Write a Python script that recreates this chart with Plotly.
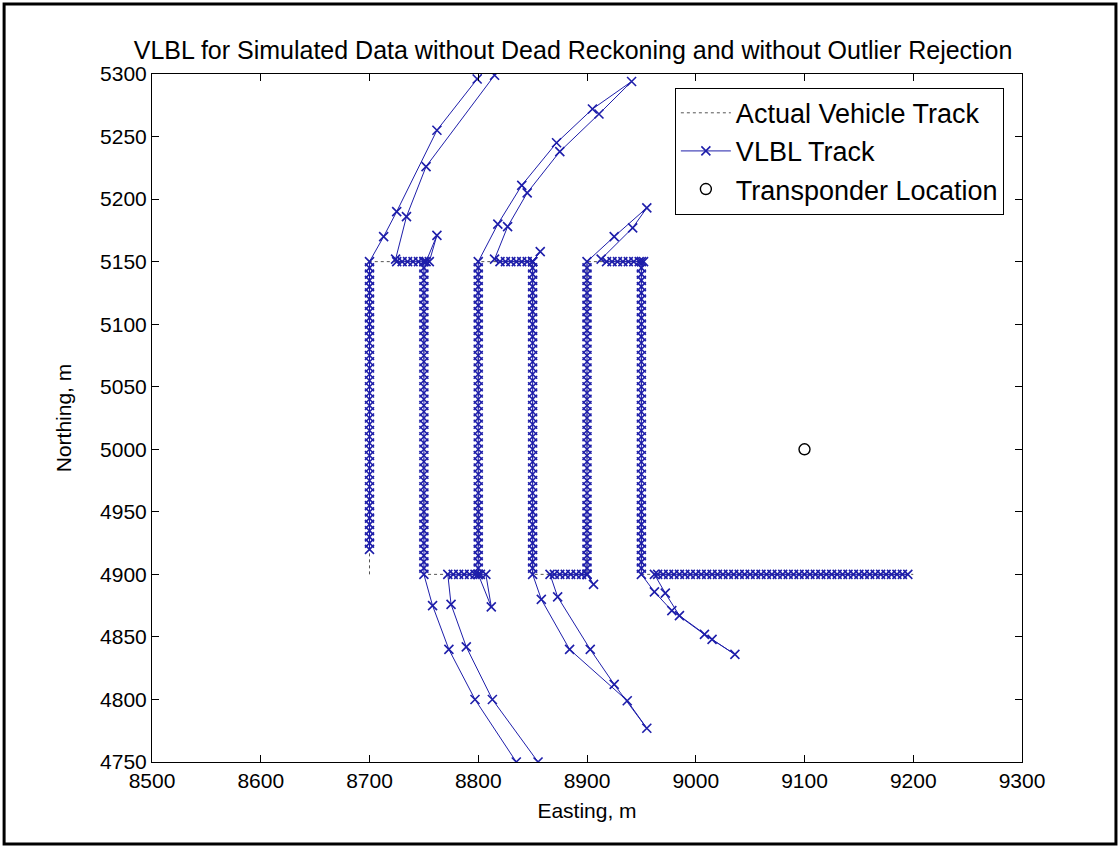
import plotly.graph_objects as go

# ---------------- data ----------------
# planned (actual) vehicle track way-points
actual_e = [8700, 8700, 8750, 8750, 8800, 8800, 8850, 8850, 8900, 8900, 8950, 8950, 9200]
actual_n = [4900, 5150, 5150, 4900, 4900, 5150, 5150, 4900, 4900, 5150, 5150, 4900, 4900]

# transponder
transponder_e = [9100]
transponder_n = [5000]

# northings of the VLBL fixes along the survey legs
leg_north = [4900, 4905, 4910, 4915, 4920, 4925, 4930, 4935, 4940, 4945, 4950, 4955, 4960,
             4965, 4970, 4975, 4980, 4985, 4990, 4995, 5000, 5005, 5010, 5015, 5020, 5025,
             5030, 5035, 5040, 5045, 5050, 5055, 5060, 5065, 5070, 5075, 5080, 5085, 5090,
             5095, 5100, 5105, 5110, 5115, 5120, 5125, 5130, 5135, 5140, 5145, 5150]
first_leg_north = [4920, 4925, 4930, 4935, 4940, 4945, 4950, 4955, 4960, 4965, 4970, 4975,
                   4980, 4985, 4990, 4995, 5000, 5005, 5010, 5015, 5020, 5025, 5030, 5035,
                   5040, 5045, 5050, 5055, 5060, 5065, 5070, 5075, 5080, 5085, 5090, 5095,
                   5100, 5105, 5110, 5115, 5120, 5125, 5130, 5135, 5140, 5145, 5150]
leg_eastings = [8700, 8750, 8800, 8850, 8900, 8950]

# VLBL fixes around each turn (outlier excursions along the range circle)
turn1_e = [8713, 8725, 8762, 8799, 8835, 8852, 8815, 8752, 8734, 8724,
           8725, 8730, 8735, 8740, 8745, 8750, 8755, 8762, 8752]
turn1_n = [5170, 5190, 5255, 5296, 5330, 5330, 5299, 5226, 5186, 5152,
           5150, 5150, 5150, 5150, 5150, 5150, 5150, 5171, 5150]

turn2_e = [8758, 8773, 8797, 8835, 8868, 8890, 8855, 8813, 8789, 8775, 8772,
           8777, 8782, 8787, 8792, 8797, 8802, 8807, 8812, 8800]
turn2_n = [4875, 4840, 4800, 4750, 4718, 4718, 4750, 4800, 4842, 4876, 4900,
           4900, 4900, 4900, 4900, 4900, 4900, 4900, 4874, 4900]

turn3_e = [8818, 8840, 8872, 8905, 8941, 8911, 8875, 8845, 8827, 8815,
           8820, 8825, 8830, 8835, 8840, 8845, 8850, 8857, 8850]
turn3_n = [5180, 5211, 5245, 5272, 5294, 5268, 5238, 5205, 5178, 5152,
           5150, 5150, 5150, 5150, 5150, 5150, 5150, 5158, 5150]

turn4_e = [8858, 8884, 8937, 8955, 8925, 8903, 8873, 8866,
           8870, 8875, 8880, 8885, 8890, 8895, 8900, 8906, 8900]
turn4_n = [4880, 4840, 4799, 4777, 4812, 4840, 4882, 4900,
           4900, 4900, 4900, 4900, 4900, 4900, 4900, 4892, 4900]

turn5_e = [8925, 8955, 8942, 8913, 8918, 8923, 8928, 8933, 8938, 8943, 8948, 8952]
turn5_n = [5170, 5193, 5177, 5152, 5150, 5150, 5150, 5150, 5150, 5150, 5150, 5150]

turn6_e = [8962, 8978, 9008, 9036, 9015, 8985, 8972, 8962]
turn6_n = [4886, 4871, 4852, 4836, 4848, 4867, 4885, 4900]

east_leg_e = [8965, 8970, 8975, 8980, 8985, 8990, 8995, 9000, 9005, 9010, 9015, 9020, 9025,
              9030, 9035, 9040, 9045, 9050, 9055, 9060, 9065, 9070, 9075, 9080, 9085, 9090,
              9095, 9100, 9105, 9110, 9115, 9120, 9125, 9130, 9135, 9140, 9145, 9150, 9155,
              9160, 9165, 9170, 9175, 9180, 9185, 9190, 9195]
east_leg_n = [4900] * len(east_leg_e)

x_ticks = [8500, 8600, 8700, 8800, 8900, 9000, 9100, 9200, 9300]
y_ticks = [4750, 4800, 4850, 4900, 4950, 5000, 5050, 5100, 5150, 5200, 5250, 5300]

# ---------------- assemble VLBL track ----------------
south = leg_north[::-1]
vlbl_e, vlbl_n = [], []
def add(es, ns):
    vlbl_e.extend(es)
    vlbl_n.extend(ns)

add([leg_eastings[0]] * len(first_leg_north), first_leg_north)
add(turn1_e, turn1_n)
add([leg_eastings[1]] * len(south), south)
add(turn2_e, turn2_n)
add([leg_eastings[2]] * len(leg_north), leg_north)
add(turn3_e, turn3_n)
add([leg_eastings[3]] * len(south), south)
add(turn4_e, turn4_n)
add([leg_eastings[4]] * len(leg_north), leg_north)
add(turn5_e, turn5_n)
add([leg_eastings[5]] * len(south), south)
add(turn6_e, turn6_n)
add(east_leg_e, east_leg_n)

# ---------------- figure ----------------
FONT = "Liberation Sans, Arial, sans-serif"
VCOL = "#1e1eaa"

fig = go.Figure()
fig.add_trace(go.Scatter(
    x=actual_e, y=actual_n, mode="lines", name="Actual Vehicle Track",
    line=dict(color="#555555", width=1, dash="dot"), legendgroup="a"))
fig.add_trace(go.Scatter(
    x=vlbl_e, y=vlbl_n, mode="lines+markers", name="VLBL Track",
    line=dict(color=VCOL, width=1),
    marker=dict(symbol="x-thin", size=9, color=VCOL, line=dict(width=1.6, color=VCOL)),
    legendgroup="b"))
fig.add_trace(go.Scatter(
    x=transponder_e, y=transponder_n, mode="markers", name="Transponder Location",
    marker=dict(symbol="circle-open", size=11, color="black", line=dict(width=1.4, color="black")),
    legendgroup="c"))

axis_common = dict(
    showgrid=False, zeroline=False, showline=True, linecolor="black", linewidth=1,
    mirror="ticks", ticks="inside", ticklen=7, tickcolor="black",
    tickfont=dict(family=FONT, size=21, color="black"),
)
fig.update_xaxes(range=[8500, 9300], tickvals=x_ticks, ticktext=[str(v) for v in x_ticks],
                 title=dict(text="Easting, m", font=dict(family=FONT, size=21, color="black"),
                            standoff=12),
                 **axis_common)
fig.update_yaxes(range=[4750, 5300], tickvals=y_ticks, ticktext=[str(v) for v in y_ticks],
                 title=dict(text="Northing, m", font=dict(family=FONT, size=21, color="black"),
                            standoff=22),
                 **axis_common)

fig.update_layout(
    width=1120, height=848,
    margin=dict(l=152, r=98, t=74, b=86),
    paper_bgcolor="white", plot_bgcolor="white",
    title=dict(text="VLBL for Simulated Data without Dead Reckoning and without Outlier Rejection",
               x=0.484, xref="paper", xanchor="center", y=1 - 50 / 848, yref="container",
               yanchor="middle", font=dict(family=FONT, size=25, color="black")),
    legend=dict(x=0.601, y=0.98, xanchor="left", yanchor="top", bgcolor="white",
                bordercolor="black", borderwidth=1, traceorder="grouped", tracegroupgap=0,
                itemwidth=50, font=dict(family=FONT, size=27, color="black")),
    showlegend=True,
)
# figure frame
fig.add_shape(type="rect", xref="paper", yref="paper", x0=-0.170, x1=1.108, y0=-0.1192, y1=1.1017,
              line=dict(color="black", width=3), fillcolor="rgba(0,0,0,0)", layer="above")

fig.write_html("out.html")
